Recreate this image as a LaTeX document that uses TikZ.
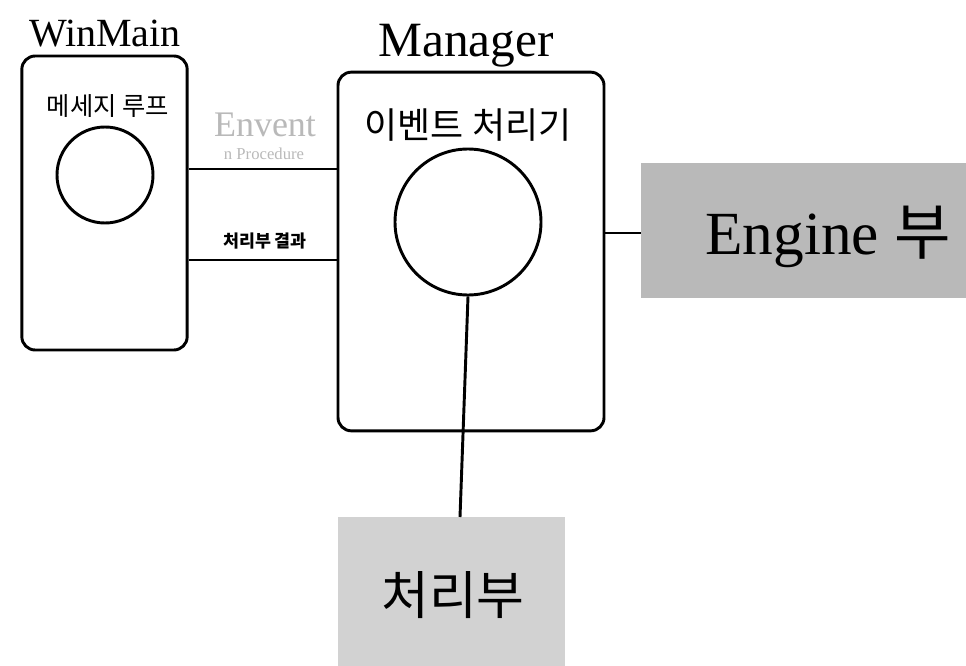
\documentclass[tikz,border=0pt]{standalone}
\usepackage{fontspec}
\setmainfont{Liberation Serif}
\newfontfamily\kr{Noto Sans CJK KR}
\begin{document}
\begin{tikzpicture}[x=0.75pt,y=-0.75pt,
  box/.style={draw=black,line width=2.2pt,rounded corners=10pt,inner sep=0pt},
  shade/.style={inner sep=0pt},
  ring/.style={draw=black,line width=2.2pt,circle,inner sep=0pt},
  conn/.style={draw=black,line width=2.2pt},
  lbl/.style={inner sep=0pt}]
\useasboundingbox (0,0) rectangle (966,666);
% boxes
\node[box,minimum width=124pt,minimum height=220.5pt] (winmain) at (104.5,203) {};
\node[box,minimum width=199.5pt,minimum height=269pt] (manager) at (471,251.5) {};
\node[shade,fill=gray!55,minimum width=244pt,minimum height=101pt] (engine) at (803.5,230.5) {};
\node[shade,fill=gray!35,minimum width=170pt,minimum height=112pt] (proc) at (451.5,591.5) {};
% circles
\node[ring,minimum size=72pt] (c1) at (105,175) {};
\node[ring,minimum size=109.5pt] (c2) at (468,222) {};
% titles
\node[lbl,anchor=base] (twin) at (105,47) {\fontsize{30}{30}\selectfont WinMain};
\node[lbl,anchor=base] (tman) at (466,57) {\fontsize{37}{37}\selectfont Manager};
\node[lbl] (tmsg) at (108,106) {\kr\fontsize{19}{19}\selectfont 메세지 루프};
\node[lbl] (tevt) at (468,125) {\kr\fontsize{27}{27}\selectfont 이벤트 처리기};
\node[lbl,text=gray!55] (tenv) at (265,125) {\fontsize{27}{27}\selectfont Envent};
\node[lbl,text=gray!55] (tsub) at (264,154) {\fontsize{12.5}{12.5}\selectfont n Procedure};
\node[lbl] (tres) at (265,241) {\kr\bfseries\fontsize{13}{13}\selectfont 처리부 결과};
\node[lbl] (teng) at (828,237) {\fontsize{46}{46}\selectfont Engine {\kr 부}};
\node[lbl] (tproc) at (453,595) {\kr\fontsize{39}{39}\selectfont 처리부};
% connectors
\coordinate (ya) at (0,169);
\coordinate (yb) at (0,260);
\coordinate (ye) at (0,233);
\coordinate (pe) at (460,517);
\draw[conn] (winmain.east |- ya) -- (manager.west |- ya);
\draw[conn] (winmain.east |- yb) -- (manager.west |- yb);
\draw[conn] (manager.east |- ye) -- (engine.west |- ye);
\draw[conn] (c2.south) -- (pe);
\end{tikzpicture}
\end{document}
